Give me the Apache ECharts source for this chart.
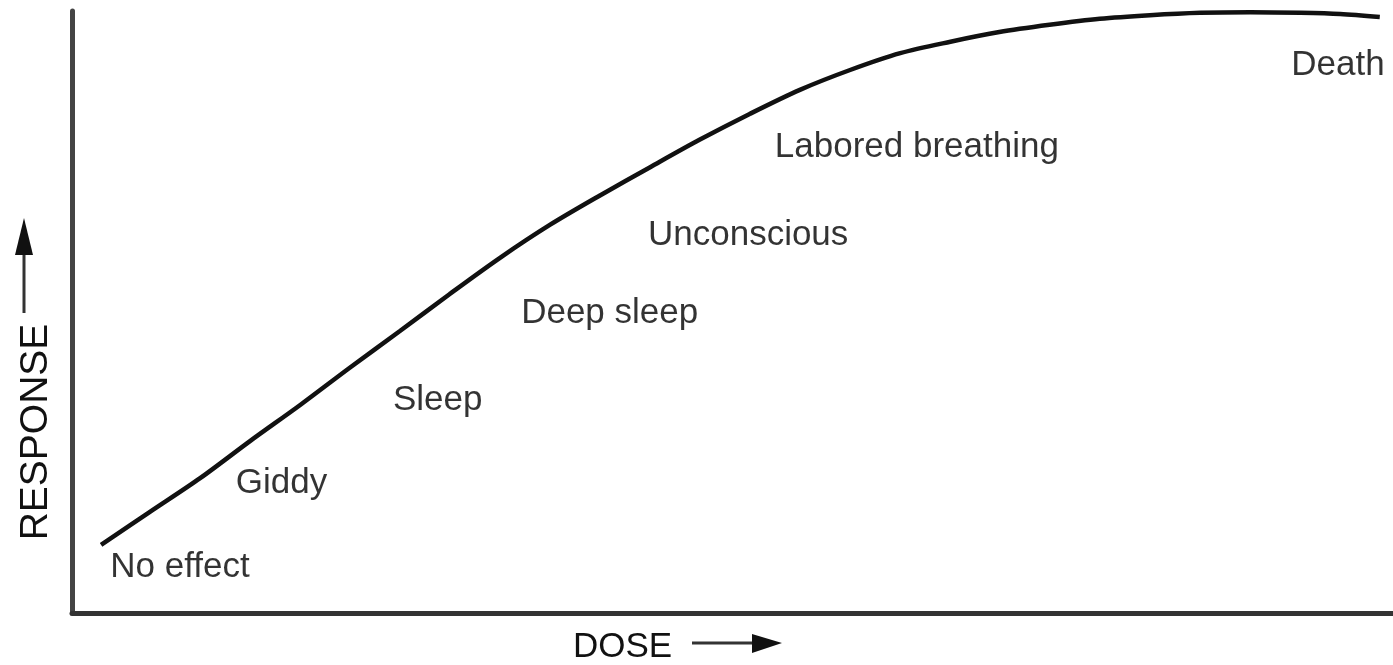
<!DOCTYPE html>
<html>
<head>
<meta charset="utf-8">
<script src="https://cdn.jsdelivr.net/npm/echarts@6/dist/echarts.min.js"></script>
<style>
  html, body { margin: 0; padding: 0; background: #fff; }
  #chart { width: 1393px; height: 665px; }
</style>
</head>
<body>
<div id="chart"></div>
<script>
// Dose-response curve (dose and response in relative units 0..100)
var doseValues = [2.2, 5.9, 9.7, 13.5, 17.3, 21.0, 24.8, 28.6, 32.4, 36.2, 40.0, 43.8, 47.5, 51.3, 55.1, 58.9, 62.7, 66.5, 70.2, 74.0, 77.8, 81.6, 85.4, 89.2, 93.0, 96.0, 99.0];
var responseValues = [11.3, 16.8, 22.4, 28.6, 34.6, 40.7, 46.8, 53.0, 59.0, 64.5, 69.4, 74.1, 78.6, 82.9, 86.9, 90.2, 93.0, 94.9, 96.5, 97.7, 98.7, 99.3, 99.7, 99.8, 99.7, 99.5, 99.0];

// Effect labels and where they sit (dose, response)
var effectNames = ['No effect', 'Giddy', 'Sleep', 'Deep sleep', 'Unconscious', 'Labored breathing', 'Death'];
var effectDose = [2.9, 12.4, 24.3, 34.0, 43.6, 53.2, 92.3];
var effectResponse = [7.6, 21.6, 35.4, 49.7, 62.8, 77.4, 91.0];

var xAxisName = 'DOSE';
var yAxisName = 'RESPONSE';

var curveData = doseValues.map(function (d, i) { return [d, responseValues[i]]; });
var labelData = effectNames.map(function (n, i) { return { name: n, value: [effectDose[i], effectResponse[i]] }; });

var FONT = '"Liberation Sans", Arial, sans-serif';
var chart = echarts.init(document.getElementById('chart'));
chart.setOption({
  animation: false,
  backgroundColor: '#ffffff',
  grid: { left: 72, right: 0, top: 11, bottom: 52, containLabel: false, outerBoundsMode: 'none' },
  xAxis: {
    type: 'value', min: 0, max: 100,
    name: xAxisName,
    nameLocation: 'middle',
    nameGap: 17,
    nameTextStyle: { fontFamily: FONT, fontSize: 35, color: '#111', padding: [0, 220, 0, 0] },
    axisLine: { show: true, lineStyle: { color: '#333', width: 5 } },
    axisTick: { show: false }, axisLabel: { show: false }, splitLine: { show: false }
  },
  yAxis: {
    type: 'value', min: 0, max: 100,
    name: yAxisName,
    nameLocation: 'middle',
    nameGap: 16,
    nameRotate: 90,
    nameTextStyle: { fontFamily: FONT, fontSize: 39, color: '#111', padding: [0, 240, 0, 0] },
    axisLine: { show: true, lineStyle: { color: '#444', width: 5 } },
    axisTick: { show: false }, axisLabel: { show: false }, splitLine: { show: false }
  },
  series: [
    {
      type: 'line',
      data: curveData,
      smooth: 0.3,
      showSymbol: false,
      symbol: 'none',
      lineStyle: { color: '#111', width: 4.5 }
    },
    {
      type: 'scatter',
      data: labelData,
      symbolSize: 0,
      label: {
        show: true,
        position: 'right',
        distance: 0,
        formatter: '{b}',
        fontFamily: FONT,
        fontSize: 35,
        color: '#000'
      }
    }
  ],
  graphic: [
    { type: 'line', shape: { x1: 24, y1: 313, x2: 24, y2: 250 }, style: { stroke: '#333', lineWidth: 3 } },
    { type: 'polygon', shape: { points: [[15, 255], [33, 255], [24, 218]] }, style: { fill: '#111' } },
    { type: 'line', shape: { x1: 692, y1: 643, x2: 758, y2: 643 }, style: { stroke: '#333', lineWidth: 3 } },
    { type: 'polygon', shape: { points: [[752, 634], [752, 653], [782, 643]] }, style: { fill: '#111' } }
  ]
});
</script>
</body>
</html>
